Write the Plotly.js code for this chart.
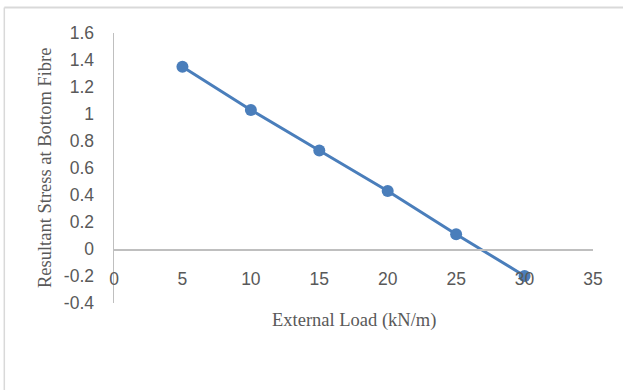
<!DOCTYPE html>
<html>
<head>
<meta charset="utf-8">
<script src="https://cdn.plot.ly/plotly-3.0.1.min.js"></script>
<style>html,body{margin:0;padding:0;background:#fff;}#chart{width:623px;height:390px;}</style>
</head>
<body>
<div id="chart"></div>
<script>
const loads = [5, 10, 15, 20, 25, 30];
const stress = [1.35, 1.03, 0.73, 0.43, 0.11, -0.2];
const xTicks = [0, 5, 10, 15, 20, 25, 30, 35];
const yTicks = [-0.4, -0.2, 0, 0.2, 0.4, 0.6, 0.8, 1, 1.2, 1.4, 1.6];
const xTitle = 'External Load (kN/m)';
const yTitle = 'Resultant Stress at Bottom Fibre';

const trace = {
  x: loads, y: stress, type: 'scatter', mode: 'lines+markers',
  line: {color: '#4a7ebb', width: 3},
  marker: {color: '#4a7ebb', size: 12},
  showlegend: false, cliponaxis: false
};

const tickFont = {family: 'Liberation Sans, Arial, sans-serif', size: 17.5, color: '#595959'};
const titleFont = {family: 'Liberation Serif, Times New Roman, serif', size: 18.5, color: '#595959'};

const layout = {
  width: 623, height: 390,
  margin: {l: 114, r: 30, t: 33, b: 87},
  paper_bgcolor: '#fff', plot_bgcolor: '#fff',
  xaxis: {
    range: [0, 35], tickvals: xTicks, ticktext: xTicks.map(String),
    showgrid: false, zeroline: false, showline: true, linecolor: '#bfbfbf', linewidth: 1.5,
    anchor: 'free', position: 0.2, ticks: '', ticklabelstandoff: 13,
    tickfont: tickFont, fixedrange: true
  },
  yaxis: {
    range: [-0.4, 1.6], tickvals: yTicks, ticktext: yTicks.map(v => String(v)),
    showgrid: false, zeroline: false, showline: true, linecolor: '#bfbfbf', linewidth: 1.5,
    ticks: '', ticklabelstandoff: 15, tickfont: tickFont, fixedrange: true
  },
  annotations: [
    {text: xTitle, xref: 'paper', yref: 'paper', x: 0.5, y: -0.065, xanchor: 'center', yanchor: 'middle',
     showarrow: false, font: titleFont},
    {text: yTitle, xref: 'paper', yref: 'paper', x: -0.144, y: 0.5, xanchor: 'center', yanchor: 'middle',
     textangle: -90, showarrow: false, font: titleFont}
  ],
  shapes: [
    {type: 'line', xref: 'paper', yref: 'paper', x0: -0.229, x1: 1.07, y0: 1.094, y1: 1.094,
     line: {color: '#d9d9d9', width: 2}},
    {type: 'line', xref: 'paper', yref: 'paper', x0: -0.229, x1: -0.229, y0: 1.094, y1: -0.33,
     line: {color: '#d9d9d9', width: 1.5}}
  ]
};

Plotly.newPlot('chart', [trace], layout, {displayModeBar: false, staticPlot: true});
</script>
</body>
</html>
